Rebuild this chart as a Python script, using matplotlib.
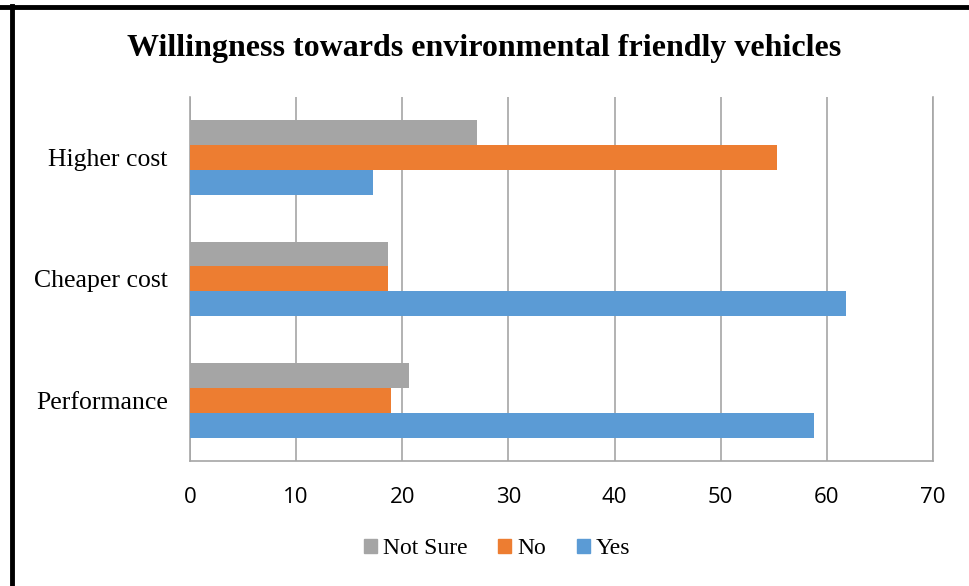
import numpy as np
import matplotlib.pyplot as plt
from matplotlib.lines import Line2D
from matplotlib.patches import Patch

# data
categories = ['Performance', 'Cheaper cost', 'Higher cost']
yes = [58.8, 61.8, 17.2]
no = [18.9, 18.7, 55.3]
not_sure = [20.6, 18.7, 27.0]
x_ticks = [0, 10, 20, 30, 40, 50, 60, 70]

c_yes = '#5b9bd5'
c_no = '#ed7d31'
c_ns = '#a5a5a5'
grid_c = '#a6a6a6'

fig = plt.figure(figsize=(9.69, 5.86), dpi=100)
ax = fig.add_axes([0.196, 0.2133, 0.767, 0.6212])

y = np.arange(len(categories))
h = 0.206
ax.barh(y - h, yes, height=h, color=c_yes, label='Yes', zorder=3)
ax.barh(y, no, height=h, color=c_no, label='No', zorder=3)
ax.barh(y + h, not_sure, height=h, color=c_ns, label='Not Sure', zorder=3)

ax.set_xlim(0, 70)
ax.set_ylim(-0.5, 2.5)
ax.set_xticks(x_ticks)
ax.set_yticks(y)
ax.set_yticklabels(categories, fontfamily='Liberation Serif', fontsize=18.5)
for lbl in ax.get_xticklabels():
    lbl.set_fontfamily('Open Sans')
    lbl.set_fontsize(16)
ax.tick_params(axis='both', length=0)
ax.tick_params(axis='x', pad=19)
ax.tick_params(axis='y', pad=16)

ax.grid(axis='x', color=grid_c, linewidth=1.2, zorder=0)
ax.spines['top'].set_visible(False)
for s in ['left', 'bottom', 'right']:
    ax.spines[s].set_color(grid_c)
    ax.spines[s].set_linewidth(1.2)

fig.text(0.5, 0.918, 'Willingness towards environmental friendly vehicles',
         ha='center', va='center', fontfamily='Liberation Serif',
         fontweight='bold', fontsize=23)

handles = [Patch(color=c_ns, label='Not Sure'),
           Patch(color=c_no, label='No'),
           Patch(color=c_yes, label='Yes')]
fig.legend(handles=handles, loc='center', bbox_to_anchor=(0.513, 0.064),
           ncol=3, frameon=False, prop={'family': 'Liberation Serif', 'size': 17},
           handlelength=0.55, handleheight=0.55, handletextpad=0.25, columnspacing=1.3)

# black frame on the top and left edges
fig.add_artist(Line2D([0, 1], [0.9885, 0.9885], color='black', linewidth=3.5))
fig.add_artist(Line2D([0.0125, 0.0125], [0, 0.99], color='black', linewidth=3.5))

fig.savefig('out.png', dpi=100)
